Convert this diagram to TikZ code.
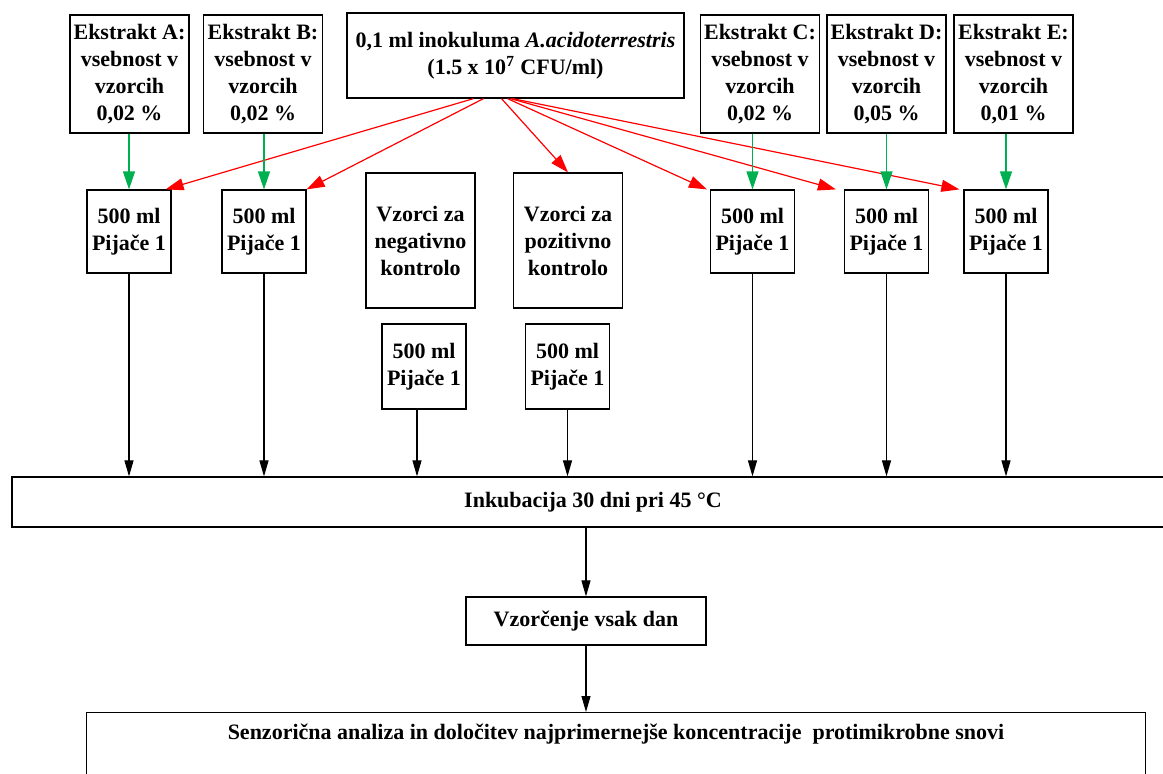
\documentclass[tikz,border=0pt]{standalone}
\usepackage{fontspec}
\setmainfont{Liberation Serif}
\usepackage{tikz}
\usetikzlibrary{arrows.meta,positioning}
\definecolor{InokRed}{HTML}{FF0000}
\definecolor{ExtGreen}{HTML}{00B050}

\begin{document}
\begin{tikzpicture}[x=0.5pt,y=-0.5pt,
  every node/.style={font=\bfseries\fontsize{11}{13.5}\selectfont,align=center},
  box/.style={draw,line width=0.6pt,inner sep=1pt},
  ekstrakt/.style={box,minimum width=59.5pt,minimum height=59pt},
  pijaca/.style={box,minimum width=42pt,minimum height=41.5pt},
  kontrola/.style={box,minimum width=54.5pt,minimum height=67.5pt},
  redarr/.style={-{Triangle[length=9pt,width=6pt]},InokRed,line width=0.6pt},
  greenarr/.style={-{Triangle[length=9pt,width=6pt]},ExtGreen,line width=0.6pt},
  arr/.style={-{Triangle[length=8pt,width=4.5pt]},line width=0.55pt}
]
  \useasboundingbox (0,0) rectangle (1163,773);

  \node[ekstrakt] (eA) at (129.5,74) {Ekstrakt A:\\ vsebnost v\\ vzorcih\\ 0,02 \%};
  \node[ekstrakt] (eB) at (263,74) {Ekstrakt B:\\ vsebnost v\\ vzorcih\\ 0,02 \%};
  \node[box,minimum width=168.5pt,minimum height=42.5pt] (inok) at (515.5,55.5)
    {0,1 ml inokuluma \textit{A.acidoterrestris}\\ (1.5 x 10\textsuperscript{7} CFU/ml)};
  \node[ekstrakt] (eC) at (760,74) {Ekstrakt C:\\ vsebnost v\\ vzorcih\\ 0,02 \%};
  \node[ekstrakt] (eD) at (886.5,74) {Ekstrakt D:\\ vsebnost v\\ vzorcih\\ 0,05 \%};
  \node[ekstrakt] (eE) at (1013.5,74) {Ekstrakt E:\\ vsebnost v\\ vzorcih\\ 0,01 \%};

  \node[pijaca] (bA) at (129,231.5) {500 ml\\ Pijače 1};
  \node[pijaca] (bB) at (264,231.5) {500 ml\\ Pijače 1};
  \node[pijaca] (bC) at (752.5,231.5) {500 ml\\ Pijače 1};
  \node[pijaca] (bD) at (886.5,231.5) {500 ml\\ Pijače 1};
  \node[pijaca] (bE) at (1006,231.5) {500 ml\\ Pijače 1};

  \node[kontrola] (kNeg) at (420.5,240.5) {Vzorci za\\ negativno\\ kontrolo};
  \node[kontrola] (kPos) at (568,240.5) {Vzorci za\\ pozitivno\\ kontrolo};
  \node[pijaca,minimum height=42.5pt] (bN) at (424,366.5) {500 ml\\ Pijače 1};
  \node[pijaca,minimum height=42.5pt] (bP) at (567.5,366.5) {500 ml\\ Pijače 1};

  \node[box,minimum width=581pt,minimum height=25pt] (inkub) at (593,502)
    {Inkubacija 30 dni pri 45 °C};
  \node[box,minimum width=120pt,minimum height=24pt] (vzor) at (586,621)
    {Vzorčenje vsak dan};
  \node[box,minimum width=529.5pt,anchor=north,inner sep=5.5pt] (senz) at (616,712)
    {Senzorična analiza in določitev najprimernejše koncentracije\ \ protimikrobne snovi\\ ~\\ ~\\ ~};

  \draw[redarr] ([xshift=-21pt]inok.south) -- ([xshift=-3pt]bA.north east);
  \draw[redarr] ([xshift=-16pt]inok.south) -- (bB.north east);
  \draw[redarr] ([xshift=-7pt]inok.south) -- (kPos.north);
  \draw[redarr] ([xshift=-4pt]inok.south) -- ([xshift=-1.5pt]bC.north west);
  \draw[redarr] ([xshift=-2.5pt]inok.south) -- ([xshift=-4pt]bD.north west);
  \draw[redarr] ([xshift=-1.5pt]inok.south) -- ([xshift=-2pt]bE.north west);

  \foreach \e/\b in {eA/bA,eB/bB,eC/bC,eD/bD,eE/bE}
    \draw[greenarr] (\e.south -| \b.north) -- (\b.north);

  \foreach \b in {bA,bB,bP,bC,bD,bE}
    \draw[arr] (\b.south) -- (\b.south |- inkub.north);
  \draw[arr] ([xshift=-3.5pt]bN.south) -- ([xshift=-3.5pt]bN.south |- inkub.north);

  \draw[arr] (inkub.south -| vzor.north) -- (vzor.north);
  \draw[arr] (vzor.south) -- (vzor.south |- senz.north);
\end{tikzpicture}
\end{document}
